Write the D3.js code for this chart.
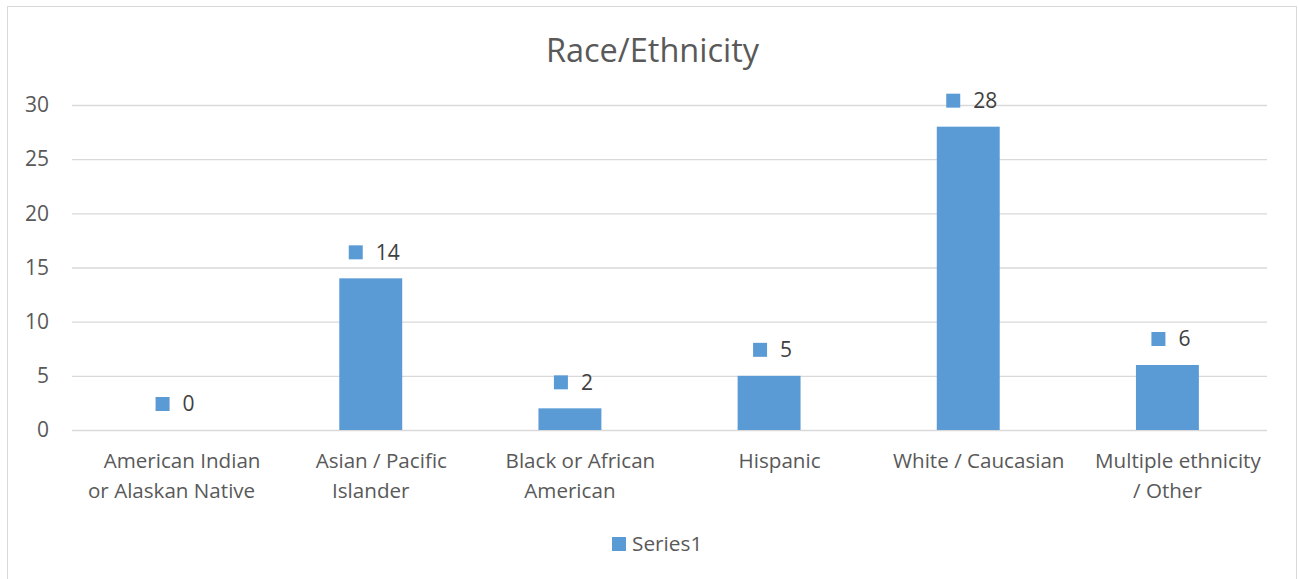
<!DOCTYPE html>
<html><head><meta charset="utf-8">
<script src="https://cdn.jsdelivr.net/npm/d3@7/dist/d3.min.js"></script>
<style>body{margin:0;background:#fff}svg{display:block}text{font-family:"Open Sans",sans-serif;fill:#595959}</style>
</head><body>
<script>
const categories = [["American Indian","or Alaskan Native"],["Asian / Pacific","Islander"],["Black or African","American"],["Hispanic"],["White / Caucasian"],["Multiple ethnicity","/ Other"]];
const values = [0,14,2,5,28,6];
const yTicks = [0,5,10,15,20,25,30];
const seriesName = "Series1";
const title = "Race/Ethnicity";

const W=1299,H=579, color="#5b9bd5";
const svg=d3.select("body").append("svg").attr("width",W).attr("height",H);
svg.append("rect").attr("x",7.5).attr("y",6.5).attr("width",1289).attr("height",590).attr("fill","#fff").attr("stroke","#d9d9d9");
const m={l:72,r:1267,t:105,b:430};
const x=d3.scaleBand().domain(d3.range(categories.length)).range([m.l,m.r]).paddingInner(0.684).paddingOuter(0.342);
const y=d3.scaleLinear().domain([0,30]).range([m.b,m.t]);

svg.append("text").attr("x",652.5).attr("y",62).attr("text-anchor","middle").attr("font-size",32.5).text(title);

const ya=svg.append("g").attr("transform",`translate(${m.l},0)`).call(d3.axisLeft(y).tickValues(yTicks).tickSize(-(m.r-m.l)).tickPadding(23));
ya.select(".domain").remove();
ya.selectAll(".tick line").attr("stroke","#d9d9d9").attr("stroke-width",1.3);
ya.selectAll(".tick text").attr("font-size",21).attr("fill","#595959").attr("font-family","Open Sans");

svg.append("g").selectAll("rect").data(values).join("rect")
 .attr("x",(d,i)=>x(i)).attr("width",x.bandwidth()).attr("y",d=>y(d)).attr("height",d=>y(0)-y(d)).attr("fill",color);

const lab=svg.append("g").selectAll("g").data(values).join("g")
 .attr("transform",(d,i)=>`translate(${x(i)+x.bandwidth()/2},${y(d)-26})`);
lab.each(function(d){
  const g=d3.select(this);
  const t=g.append("text").attr("font-size",21).attr("dy","0.35em").style("fill","#404040").text(d);
  const tw=t.node().getComputedTextLength();
  const x0=-(27+tw)/2+3.5;
  g.append("rect").attr("x",x0).attr("y",-7).attr("width",14).attr("height",14).attr("fill",color);
  t.attr("x",x0+27);
});

const xl=svg.append("g").selectAll("text").data(categories).join("text")
 .attr("text-anchor","middle").attr("font-size",20.6)
 .attr("transform",(d,i)=>`translate(${x(i)+x.bandwidth()/2},467.5)`);
xl.selectAll("tspan").data(d=>d).join("tspan").attr("x",(d,j)=>j?0:10.5).attr("dy",(d,j)=>j?30:0).text(d=>d);

svg.append("rect").attr("x",612).attr("y",537).attr("width",14).attr("height",14).attr("fill",color);
svg.append("text").attr("x",632).attr("y",544).attr("dy","0.35em").attr("font-size",20.8).text(seriesName);
</script>
</body></html>
